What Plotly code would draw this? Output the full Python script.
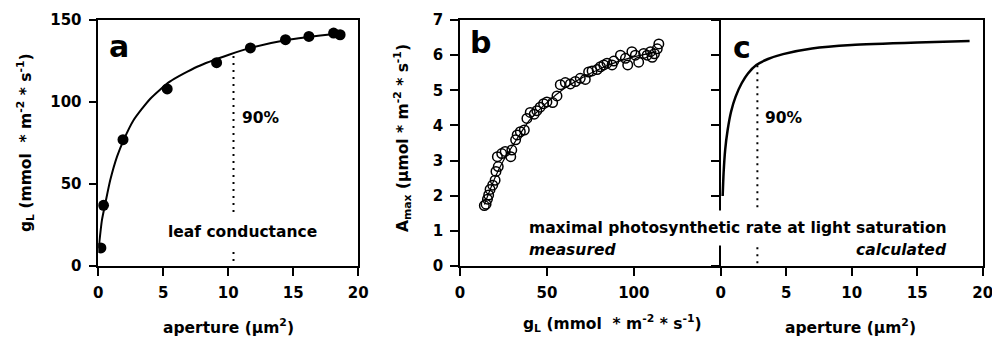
import plotly.graph_objects as go

W, H = 992, 337

# ---------------- Panel a: leaf conductance vs aperture ----------------
a_aperture = [0.2, 0.4, 1.9, 5.3, 9.1, 11.7, 14.4, 16.2, 18.1, 18.6]
a_gl = [11, 37, 77, 108, 124, 133, 138, 140, 142, 141]
a_fit_x = [0.03, 0.28, 0.54, 0.92, 1.44, 1.95, 2.72, 4.0, 5.5, 7.6, 10.1, 11.7, 14.5, 18.6]
a_fit_y = [10.8, 28, 38.2, 52.4, 66.7, 76.8, 89, 102, 112.4, 121.5, 129, 133, 137.8, 141.9]
a_90_x = [10.4, 10.4]
a_90_y = [3, 130]

# ---------------- Panel b: Amax vs gL (measured) ----------------
b_gl = [14.0, 15.0, 15.8, 16.5, 17.3, 18.8, 20.2, 20.7, 22.0, 21.5, 24.0, 26.0, 29.8, 29.2,
        32.0, 32.9, 34.7, 37.0, 38.5, 40.4, 42.7, 44.2, 46.1, 48.1, 50.0, 53.3, 55.8, 57.7,
        60.6, 63.5, 66.4, 69.2, 72.1, 74.0, 76.0, 78.9, 80.8, 82.7, 84.6, 87.5, 88.5, 92.3,
        95.2, 96.5, 98.9, 100.9, 102.8, 105.7, 107.7, 109.6, 110.6, 111.9, 113.5, 114.4]
b_amax = [1.72, 1.76, 1.90, 2.02, 2.18, 2.30, 2.44, 2.69, 2.83, 3.11, 3.20, 3.26, 3.30, 3.11,
          3.59, 3.73, 3.82, 3.87, 4.20, 4.37, 4.32, 4.42, 4.52, 4.62, 4.67, 4.65, 4.84, 5.16,
          5.22, 5.18, 5.25, 5.34, 5.31, 5.52, 5.55, 5.59, 5.67, 5.72, 5.77, 5.72, 5.83, 6.00,
          5.91, 5.72, 6.10, 6.00, 5.80, 6.05, 6.00, 6.10, 5.94, 6.04, 6.18, 6.32]
b_fit_x = [14, 20, 25, 30, 40, 50, 60, 70, 80, 90, 100, 113]
b_fit_y = [1.75, 2.5, 3.0, 3.4, 4.15, 4.65, 5.05, 5.35, 5.6, 5.8, 5.95, 6.1]

# ---------------- Panel c: Amax vs aperture (calculated) ----------------
c_aperture = [0.15, 0.22, 0.34, 0.53, 0.79, 1.14, 1.60, 2.08, 2.72, 3.61, 4.76, 6.97, 10.0, 15.0, 19.0]
c_amax = [1.99, 2.64, 3.30, 3.87, 4.39, 4.82, 5.20, 5.48, 5.72, 5.89, 6.03, 6.19, 6.29, 6.36, 6.40]
c_90_x = [2.8, 2.8]
c_90_y = [0.08, 5.75]

# tick labels
a_xticks = [0, 5, 10, 15, 20]
a_yticks = [0, 50, 100, 150]
b_xticks = [0, 50, 100]
b_yticks = [0, 1, 2, 3, 4, 5, 6, 7]
c_xticks = [0, 5, 10, 15, 20]

FONT = "DejaVu Sans"
tick_font = dict(family=FONT, size=15, color="black", weight="bold")

def px_x(p):
    return p / W

def px_y(p):
    return (H - p) / H

fig = go.Figure()

# panel a
fig.add_trace(go.Scatter(x=a_fit_x, y=a_fit_y, mode="lines",
                         line=dict(color="black", width=2, shape="spline", smoothing=0.6),
                         xaxis="x", yaxis="y"))
fig.add_trace(go.Scatter(x=a_aperture, y=a_gl, mode="markers",
                         marker=dict(color="black", size=11, symbol="circle"), xaxis="x", yaxis="y"))
fig.add_trace(go.Scatter(x=a_90_x, y=a_90_y, mode="lines", line=dict(color="black", width=2, dash="2px,5px"),
                         xaxis="x", yaxis="y"))

# panel b
fig.add_trace(go.Scatter(x=b_fit_x, y=b_fit_y, mode="lines",
                         line=dict(color="black", width=1.2, shape="spline", smoothing=0.6),
                         xaxis="x2", yaxis="y2"))
fig.add_trace(go.Scatter(x=b_gl, y=b_amax, mode="markers",
                         marker=dict(color="black", size=9.5, symbol="circle-open", line=dict(width=1.5)),
                         xaxis="x2", yaxis="y2"))

# panel c
fig.add_trace(go.Scatter(x=c_aperture, y=c_amax, mode="lines",
                         line=dict(color="black", width=2.5, shape="spline", smoothing=0.5),
                         xaxis="x3", yaxis="y3"))
fig.add_trace(go.Scatter(x=c_90_x, y=c_90_y, mode="lines", line=dict(color="black", width=2, dash="2px,5px"),
                         xaxis="x3", yaxis="y3"))

ydom = [px_y(266), px_y(20)]
base = dict(showline=True, linecolor="black", linewidth=1.5, mirror=True, ticks="outside",
            ticklen=8, tickwidth=1.5, tickcolor="black", showgrid=False, zeroline=False,
            automargin=False)
common = dict(base, tickfont=tick_font, ticklabelstandoff=4, ticklabeloverflow="allow")
common_b_y = dict(common, mirror=False)

fig.update_layout(
    width=W, height=H, margin=dict(l=0, r=0, t=0, b=0, autoexpand=False),
    paper_bgcolor="white", plot_bgcolor="white", showlegend=False,
    xaxis=dict(domain=[px_x(98.3), px_x(358.3)], range=[0, 20], tickvals=a_xticks, anchor="y", **common),
    yaxis=dict(domain=ydom, range=[0, 150], tickvals=a_yticks, anchor="x", **common),
    xaxis2=dict(domain=[px_x(460), px_x(720.7)], range=[0, 150], tickvals=b_xticks, anchor="y2", **common),
    yaxis2=dict(domain=ydom, range=[0, 7], tickvals=b_yticks, anchor="x2", **common_b_y),
    xaxis3=dict(domain=[px_x(720.7), px_x(982.7)], range=[0, 20], tickvals=c_xticks, anchor="y3", **common),
    yaxis3=dict(domain=ydom, range=[0, 7], tickvals=b_yticks, anchor="x3", showticklabels=False, **base),
)

def txt(text, x, y, xref, yref, size=15.5, angle=0, bg=None, pad=1, italic=False):
    d = dict(text=text, x=x, y=y, xref=xref, yref=yref, showarrow=False, xanchor="center", yanchor="middle",
             textangle=angle, font=dict(family=FONT, size=size, color="black", weight="bold",
                                        style="italic" if italic else "normal"),
             borderpad=pad)
    if bg:
        d["bgcolor"] = bg
    fig.add_annotation(**d)

# panel letters
txt("a", 1.59, 133.8, "x", "y", size=30)
txt("b", 11.54, 6.36, "x2", "y2", size=30)
txt("c", 1.63, 6.22, "x3", "y3", size=30)

# in-plot texts
txt("90%", 12.48, 90.3, "x", "y")
txt("leaf conductance", 11.1, 20.8, "x", "y", bg="white", pad=9)
txt("90%", 4.81, 4.21, "x3", "y3")
txt("maximal photosynthetic rate at light saturation", px_x(738.3), px_y(227.9), "paper", "paper",
    bg="white", pad=8)
txt("measured", px_x(573.3), px_y(249.6), "paper", "paper", italic=True)
txt("calculated", px_x(901.7), px_y(249.6), "paper", "paper", italic=True)

# axis titles
txt("g<sub>L</sub> (mmol  * m<sup>-2</sup> * s<sup>-1</sup>)", px_x(25), px_y(143), "paper", "paper", angle=-90)
txt("A<sub>max</sub> (µmol * m<sup>-2</sup> * s<sup>-1</sup>)", px_x(402), px_y(138), "paper", "paper", angle=-90)
txt("aperture (µm<sup>2</sup>)", px_x(228), px_y(326.3), "paper", "paper")
txt("g<sub>L</sub> (mmol  * m<sup>-2</sup> * s<sup>-1</sup>)", px_x(612), px_y(323), "paper", "paper")
txt("aperture (µm<sup>2</sup>)", px_x(850), px_y(326.3), "paper", "paper")

fig.write_html("out.html", config={"displayModeBar": False},
               post_script="document.body.style.margin='0';document.body.style.overflow='hidden';")
